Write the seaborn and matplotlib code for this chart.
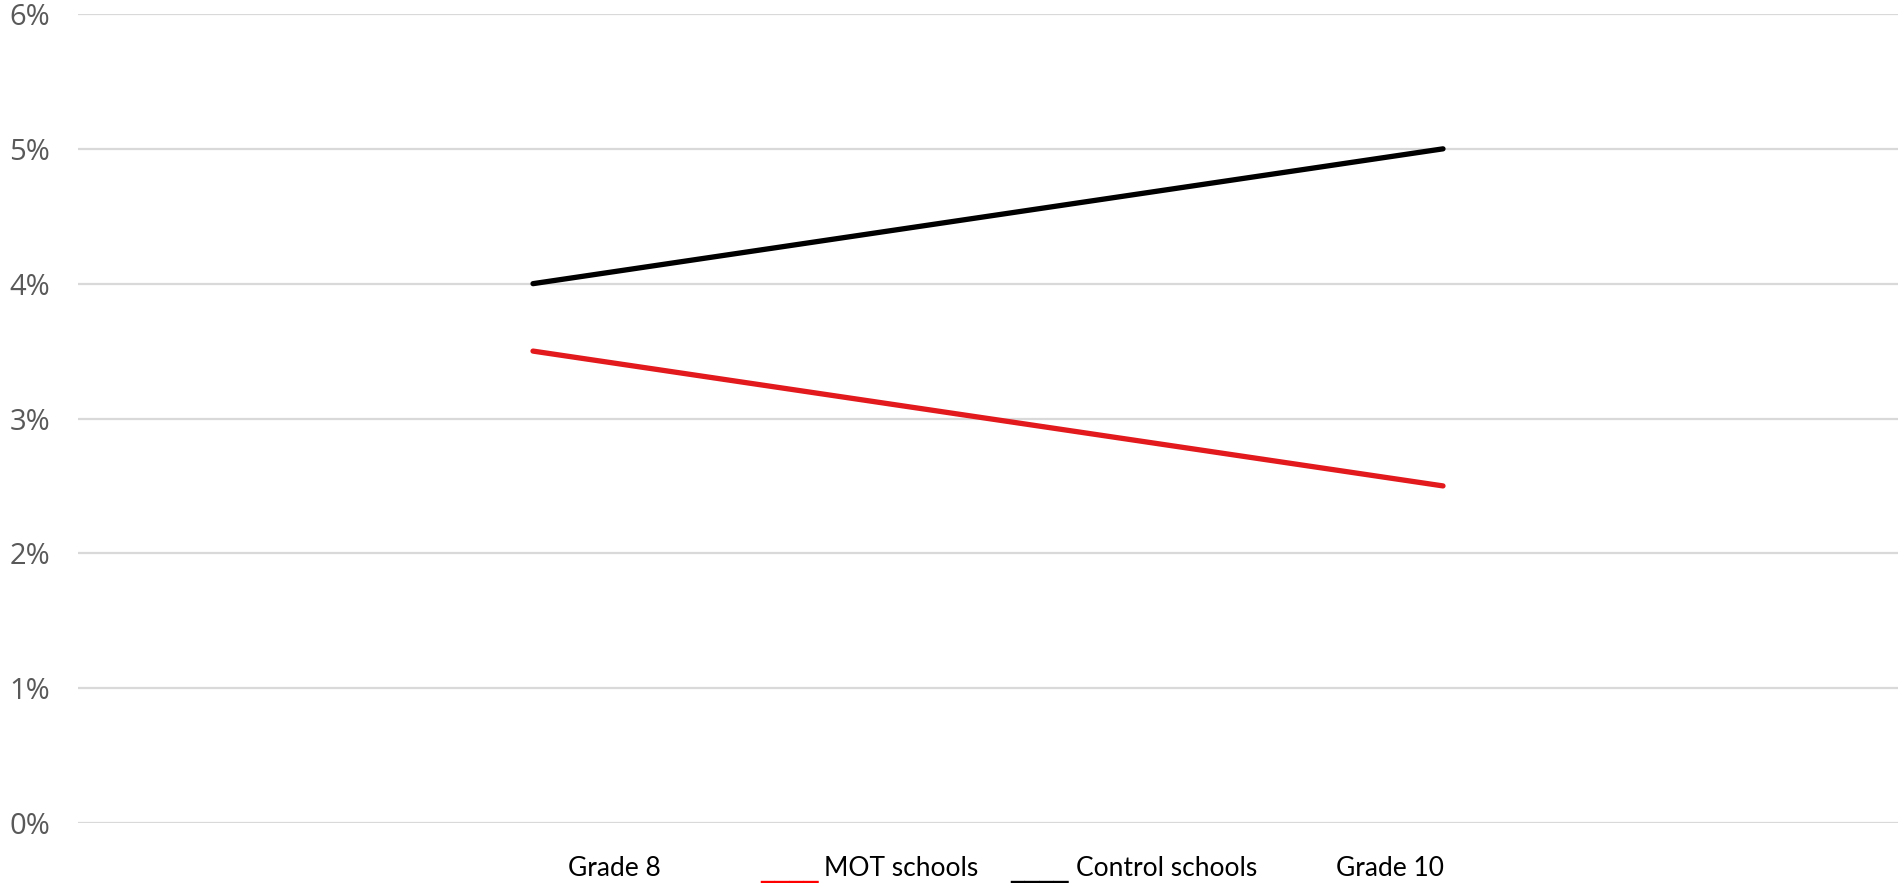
import matplotlib
matplotlib.use("Agg")
import matplotlib.pyplot as plt
import seaborn as sns
import pandas as pd
from matplotlib.ticker import FuncFormatter

grades = ["Grade 8", "Grade 10"]
mot_schools = [3.5, 2.5]
control_schools = [4.0, 5.0]
y_ticks = [0, 1, 2, 3, 4, 5, 6]

df = pd.DataFrame({
    "grade": grades * 2,
    "value": mot_schools + control_schools,
    "group": ["MOT schools"] * 2 + ["Control schools"] * 2,
})

sns.set_theme(style="white")
plt.rcParams['font.family'] = ['Open Sans', 'DejaVu Sans']

fig = plt.figure(figsize=(18.98, 8.85), dpi=100)
ax = fig.add_axes([78 / 1898, 1 - 823 / 885, 1 - 78 / 1898, (823 - 14) / 885])

sns.lineplot(data=df, x="grade", y="value", hue="group",
             palette={"MOT schools": "#E2191D", "Control schools": "#000000"},
             linewidth=3.8, ax=ax, legend=False, sort=False)
for ln in ax.lines:
    ln.set_solid_capstyle("round")

ax.set_xlim(-0.5, 1.5)
ax.set_ylim(0, 6)
ax.set_yticks(y_ticks)
ax.yaxis.set_major_formatter(FuncFormatter(lambda v, p: f"{v:.0f}%"))
ax.set_xticks([])
ax.set_xlabel("")
ax.set_ylabel("")
ax.grid(axis="y", color="#D9D9D9", linewidth=1.6)
ax.set_axisbelow(True)
for s in ax.spines.values():
    s.set_visible(False)
ax.tick_params(axis="y", length=0, pad=20, labelsize=21, labelcolor="#595959")

row_font = ['Lato', 'DejaVu Sans']
ty = 1 - 869 / 885
fs = 19
items = [
    (614, grades[0], "black", row_font, fs),
    (789, "____", "#FF0000", ['DejaVu Sans'], 21),
    (901, "MOT schools", "black", row_font, fs),
    (1040, "____", "black", ['DejaVu Sans'], 21),
    (1167, "Control schools", "black", row_font, fs),
    (1390, grades[1], "black", row_font, fs),
]
for x, txt, col, fam, size in items:
    fig.text(x / 1898, ty, txt, fontsize=size, family=fam,
             va="center", ha="center", color=col)

fig.savefig("out.png", dpi=100)
